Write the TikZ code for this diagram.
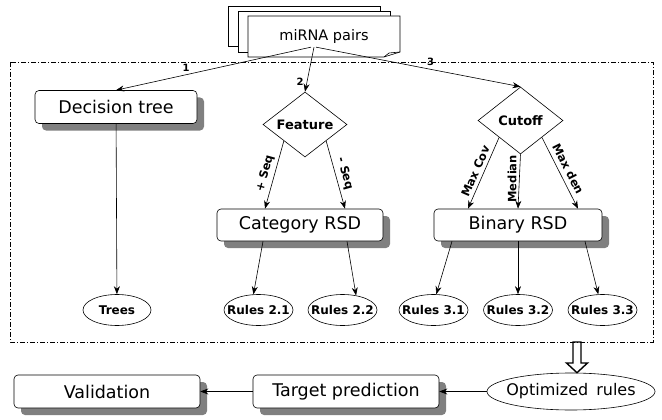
\documentclass[tikz,border=0pt]{standalone}
\usepackage{fontspec}
\setmainfont{DejaVu Sans}
\usetikzlibrary{shapes.geometric,shadows,arrows.meta,calc}

\tikzset{
  box/.style={draw, fill=white, rounded corners=4pt, minimum height=33pt,
    font=\fontsize{17.5}{20}\selectfont,
    drop shadow={shadow xshift=7pt, shadow yshift=-7pt, fill=black!50, opacity=1}},
  test/.style={draw, diamond, aspect=1.4, inner sep=0pt, fill=white,
    font=\bfseries\fontsize{13}{15}\selectfont},
  leaf/.style={draw, ellipse, inner sep=0pt, minimum width=69pt, minimum height=31pt,
    font=\bfseries\fontsize{12}{14}\selectfont},
  lbl/.style={font=\bfseries\fontsize{11.5}{13}\selectfont, inner sep=2.5pt},
  num/.style={font=\bfseries\fontsize{10}{11}\selectfont, inner sep=3pt},
}
\newcommand{\rulesof}[1]{\makebox[0pt]{Rules #1}}

\begin{document}
\begin{tikzpicture}[x=1pt, y=-1pt, >={Stealth[length=8pt,width=6pt]}, line width=0.6pt]
\useasboundingbox (0,0) rectangle (662,420);

% stack of sheets
\draw[fill=white] (228,6) rectangle (380,46);
\draw[fill=white] (238,11) rectangle (390,52);
\draw[fill=white] (248,16) -- (400,16) -- (400,52) -- (384,57) -- (248,57) -- cycle;
\draw (384,57) -- (389,53) -- (400,52);
\node (mir) at (324,36.5) [font=\fontsize{14.5}{16}\selectfont] {miRNA pairs};

\draw[dash pattern=on 5pt off 2pt on 1pt off 2pt] (10,62) rectangle (653,342);

\node (dt) at (116,107) [box, minimum width=162pt] {Decision tree};
\node (feat) at (305,124.5) [test, minimum width=84pt, minimum height=65pt] {Feature};
\node (cut) at (520.5,120.5) [test, minimum width=85pt, minimum height=67pt] {Cutoff};
\node (cat) at (300,225) [box, minimum width=166pt, minimum height=32pt] {Category RSD};
\node (bin) at (518,225) [box, minimum width=168pt, minimum height=32pt] {Binary RSD};

\node (trees) at (117,310) [leaf, minimum width=68pt] {Trees};
\node (r21) at (258.5,310) [leaf] {\rulesof{2.1}};
\node (r22) at (342.5,310) [leaf] {\rulesof{2.2}};
\node (r31) at (433.5,310) [leaf] {\rulesof{3.1}};
\node (r32) at (518,310) [leaf] {\rulesof{3.2}};
\node (r33) at (602.5,310) [leaf] {\rulesof{3.3}};

\node (val) at (107,391.5) [box, minimum width=186pt] {Validation};
\node (tp) at (346,391.5) [box, minimum width=186pt] {Target prediction};
\node (opt) at (571,391.5) [draw, ellipse, inner sep=0pt, minimum width=168pt, minimum height=37pt,
  font=\fontsize{16}{18}\selectfont] {\makebox[0pt]{Optimized\enspace rules}};

\draw[->] ([xshift=-13pt]mir.south) -- (dt.north) node[num, pos=.64, above]{1};
\draw[->] ([xshift=-10pt]mir.south) -- (feat.north) node[num, pos=.78, left]{2};
\draw[->] ([xshift=-8pt]mir.south) -- (cut.north) node[num, pos=.56, above]{3};

\draw[->] (feat.south west) -- ([xshift=-35pt]cat.north) node[lbl, pos=.52, sloped, above=1pt]{+ Seq};
\draw[->] (feat.south east) -- ([xshift=45pt]cat.north) node[lbl, pos=.52, sloped, above=1pt]{- Seq};
\draw[->] (cut.south west) -- ([xshift=-50pt]bin.north) node[lbl, pos=.52, sloped, above=1pt]{Max Cov};
\draw[->] (cut.south) -- (bin.north) node[lbl, pos=.45, rotate=90, anchor=south]{Median};
\draw[->] (cut.south east) -- ([xshift=60pt]bin.north) node[lbl, pos=.5, sloped, above=2pt]{Max den};

\draw[->] (dt) -- (trees);
\draw[->] ([xshift=-37pt]cat.south) -- (r21.108);
\draw[->] ([xshift=47pt]cat.south) -- (r22.47);
\draw[->] ([xshift=-66pt]bin.south) -- (r31.80);
\draw[->] (bin.south) -- (r32.north);
\draw[->] ([xshift=67pt]bin.south) -- (r33.105);

% hollow arrow out of the frame
\coordinate (hol) at (577,342);
\draw[line width=1.4pt, line join=miter] ($(hol)+(-4,0)$) -- ($(hol)+(-4,21)$) -- ($(hol)+(-10.5,21)$)
  -- (hol |- opt.north) -- ($(hol)+(10.5,21)$) -- ($(hol)+(4,21)$) -- ($(hol)+(4,0)$) -- cycle;

\draw[->] (opt) -- (tp);
\draw[->] (tp) -- (val);
\end{tikzpicture}
\end{document}
